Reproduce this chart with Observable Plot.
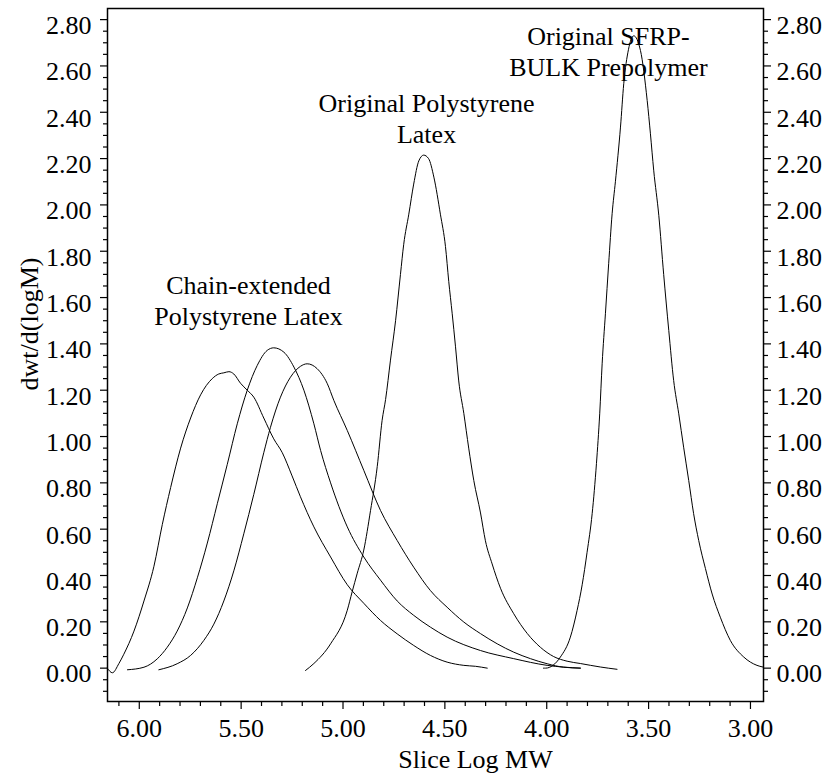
<!DOCTYPE html>
<html>
<head>
<meta charset="utf-8">
<script src="https://cdn.jsdelivr.net/npm/d3@7"></script>
<script src="https://cdn.jsdelivr.net/npm/@observablehq/plot@0.6"></script>
<style>
  html, body { margin: 0; padding: 0; background: #fff; }
  #chart svg { display: block; }
</style>
</head>
<body>
<div id="chart"></div>
<script>
// ---- Data ----
const seriesNames = [
  "Chain-extended Polystyrene Latex",
  "Intermediate sample A",
  "Intermediate sample B",
  "Original Polystyrene Latex",
  "Original SFRP-BULK Prepolymer"
];

const chainLogM = [6.157, 6.132, 6.100, 6.076, 6.026, 5.977, 5.928, 5.887, 5.846, 5.797, 5.748, 5.699, 5.642, 5.610, 5.585, 5.560, 5.536, 5.503, 5.470, 5.438, 5.389, 5.340, 5.298, 5.250, 5.209, 5.143, 5.061, 4.979, 4.898, 4.816, 4.734, 4.653, 4.571, 4.489, 4.407, 4.350, 4.292];
const chainVal  = [0.00, -0.02, 0.02, 0.06, 0.16, 0.29, 0.44, 0.62, 0.78, 0.95, 1.08, 1.18, 1.25, 1.27, 1.275, 1.28, 1.27, 1.23, 1.20, 1.17, 1.08, 0.99, 0.93, 0.83, 0.74, 0.61, 0.48, 0.36, 0.28, 0.206, 0.148, 0.098, 0.055, 0.026, 0.012, 0.008, 0.0];

const midALogM = [6.058, 5.977, 5.912, 5.863, 5.814, 5.764, 5.715, 5.666, 5.617, 5.568, 5.519, 5.470, 5.421, 5.372, 5.340, 5.290, 5.241, 5.192, 5.143, 5.110, 5.061, 4.979, 4.898, 4.816, 4.734, 4.653, 4.571, 4.489, 4.325, 4.162, 3.998, 3.835];
const midAVal  = [-0.007, 0.004, 0.04, 0.09, 0.16, 0.26, 0.39, 0.54, 0.71, 0.88, 1.055, 1.20, 1.307, 1.372, 1.383, 1.364, 1.30, 1.20, 1.055, 0.94, 0.80, 0.61, 0.48, 0.38, 0.29, 0.228, 0.177, 0.134, 0.076, 0.041, 0.012, 0.0];

const midBLogM = [5.904, 5.814, 5.748, 5.683, 5.634, 5.585, 5.536, 5.487, 5.438, 5.389, 5.356, 5.307, 5.258, 5.209, 5.176, 5.127, 5.078, 5.045, 4.979, 4.898, 4.816, 4.734, 4.653, 4.571, 4.489, 4.407, 4.325, 4.243, 4.162, 4.080, 3.998, 3.917, 3.835];
const midBVal  = [-0.007, 0.019, 0.055, 0.12, 0.19, 0.29, 0.42, 0.58, 0.75, 0.93, 1.04, 1.17, 1.256, 1.303, 1.314, 1.293, 1.23, 1.156, 1.026, 0.854, 0.681, 0.551, 0.436, 0.335, 0.263, 0.199, 0.149, 0.105, 0.069, 0.041, 0.019, 0.004, 0.0];

const psLogM = [5.184, 5.143, 5.061, 4.979, 4.955, 4.930, 4.898, 4.865, 4.832, 4.808, 4.791, 4.767, 4.742, 4.718, 4.702, 4.677, 4.653, 4.628, 4.604, 4.580, 4.554, 4.522, 4.497, 4.481, 4.464, 4.448, 4.432, 4.407, 4.383, 4.358, 4.325, 4.301, 4.268, 4.227, 4.162, 4.096, 4.031, 3.966, 3.900, 3.835, 3.737, 3.655];
const psVal  = [-0.01, 0.02, 0.105, 0.25, 0.33, 0.41, 0.51, 0.68, 0.87, 1.07, 1.16, 1.33, 1.50, 1.70, 1.83, 1.96, 2.09, 2.19, 2.215, 2.20, 2.12, 1.96, 1.82, 1.67, 1.53, 1.39, 1.24, 1.10, 0.95, 0.81, 0.67, 0.55, 0.45, 0.345, 0.235, 0.15, 0.09, 0.05, 0.03, 0.02, 0.005, -0.005];

const sfrpLogM = [4.016, 4.006, 3.933, 3.884, 3.851, 3.826, 3.802, 3.777, 3.756, 3.740, 3.728, 3.712, 3.696, 3.679, 3.663, 3.638, 3.622, 3.599, 3.573, 3.540, 3.507, 3.491, 3.475, 3.450, 3.426, 3.401, 3.377, 3.352, 3.328, 3.303, 3.279, 3.254, 3.221, 3.188, 3.148, 3.099, 3.033, 2.968, 2.940];
const sfrpVal  = [0.0, 0.0, 0.048, 0.134, 0.249, 0.36, 0.50, 0.667, 0.883, 1.098, 1.314, 1.530, 1.746, 1.962, 2.10, 2.336, 2.523, 2.67, 2.73, 2.667, 2.451, 2.307, 2.15, 1.955, 1.70, 1.458, 1.242, 1.098, 0.954, 0.810, 0.667, 0.551, 0.43, 0.32, 0.22, 0.12, 0.048, 0.012, 0.005];

const xMajorTicks = [6.0, 5.5, 5.0, 4.5, 4.0, 3.5, 3.0];
const xMinorTicks = [6.1, 5.9, 5.8, 5.7, 5.6, 5.4, 5.3, 5.2, 5.1, 4.9, 4.8, 4.7, 4.6, 4.4, 4.3, 4.2, 4.1, 3.9, 3.8, 3.7, 3.6, 3.4, 3.3, 3.2, 3.1];
const yMajorTicks = [0.0, 0.2, 0.4, 0.6, 0.8, 1.0, 1.2, 1.4, 1.6, 1.8, 2.0, 2.2, 2.4, 2.6, 2.8];
const yMinorTicks = [-0.10, -0.05, 0.05, 0.10, 0.15, 0.25, 0.30, 0.35, 0.45, 0.50, 0.55, 0.65, 0.70, 0.75, 0.85, 0.90, 0.95, 1.05, 1.10, 1.15, 1.25, 1.30, 1.35, 1.45, 1.50, 1.55, 1.65, 1.70, 1.75, 1.85, 1.90, 1.95, 2.05, 2.10, 2.15, 2.25, 2.30, 2.35, 2.45, 2.50, 2.55, 2.65, 2.70, 2.75];

const labelText = ["Chain-extended\nPolystyrene Latex", "Original Polystyrene\nLatex", "Original SFRP-\nBULK Prepolymer"];
const labelLogM = [5.464, 4.590, 3.697];
const labelVal  = [1.591, 2.379, 2.666];

const xTitle = "Slice Log MW";
const yTitle = "dwt/d(logM)";

// ---- Build table ----
const seriesX = [chainLogM, midALogM, midBLogM, psLogM, sfrpLogM];
const seriesY = [chainVal, midAVal, midBVal, psVal, sfrpVal];
const rows = [];
seriesNames.forEach((name, i) => {
  seriesX[i].forEach((x, j) => rows.push({series: name, logM: x, val: seriesY[i][j]}));
});
const labels = labelText.map((t, i) => ({text: t, logM: labelLogM[i], val: labelVal[i]}));

const fmt = d3.format(".2f");
const blank = () => "";

const chart = Plot.plot({
  width: 831,
  height: 776,
  marginLeft: 107,
  marginRight: 68,
  marginTop: 8,
  marginBottom: 75,
  style: {fontFamily: "'Liberation Serif', 'Times New Roman', serif", fontSize: "26px", background: "#fff", color: "#000"},
  x: {domain: [6.156, 2.936], axis: null},
  y: {domain: [-0.144, 2.848], axis: null},
  marks: [
    // left axis
    Plot.axisY(yMajorTicks, {anchor: "left", tickSize: 7, tickFormat: blank, label: null, strokeWidth: 1.2}),
    Plot.axisY(yMinorTicks, {anchor: "left", tickSize: 4, tickFormat: blank, label: null, strokeWidth: 1.2}),
    Plot.axisY(yMajorTicks, {anchor: "left", tickSize: 0, tickPadding: 16, dy: 6, tickFormat: fmt, label: null}),
    // right axis
    Plot.axisY(yMajorTicks, {anchor: "right", tickSize: 7, tickFormat: blank, label: null, strokeWidth: 1.2}),
    Plot.axisY(yMinorTicks, {anchor: "right", tickSize: 4, tickFormat: blank, label: null, strokeWidth: 1.2}),
    Plot.axisY(yMajorTicks, {anchor: "right", tickSize: 0, tickPadding: 13, dy: 6, tickFormat: fmt, label: null}),
    // bottom axis
    Plot.axisX(xMajorTicks, {anchor: "bottom", tickSize: 8, tickFormat: blank, label: null, strokeWidth: 1.2}),
    Plot.axisX(xMinorTicks, {anchor: "bottom", tickSize: 5, tickFormat: blank, label: null, strokeWidth: 1.2}),
    Plot.axisX(xMajorTicks, {anchor: "bottom", tickSize: 0, tickPadding: 17, tickFormat: fmt, label: null}),
    Plot.frame({stroke: "#000", strokeWidth: 1.5}),
    // curves
    Plot.line(rows, {x: "logM", y: "val", z: "series", stroke: "#000", strokeWidth: 1, curve: "monotone-x"}),
    // annotations
    Plot.text(labels, {x: "logM", y: "val", text: "text", lineHeight: 1.2, textAnchor: "middle", lineAnchor: "middle", fill: "#000"}),
    // axis titles
    Plot.text([xTitle], {frameAnchor: "bottom", textAnchor: "middle", lineAnchor: "middle", dx: 40, dy: 58, fill: "#000"}),
    Plot.text([yTitle], {frameAnchor: "top-left", textAnchor: "middle", lineAnchor: "middle", rotate: -90, dx: -78, dy: 315.5, fill: "#000"})
  ]
});
document.getElementById("chart").appendChild(chart);
</script>
</body>
</html>
